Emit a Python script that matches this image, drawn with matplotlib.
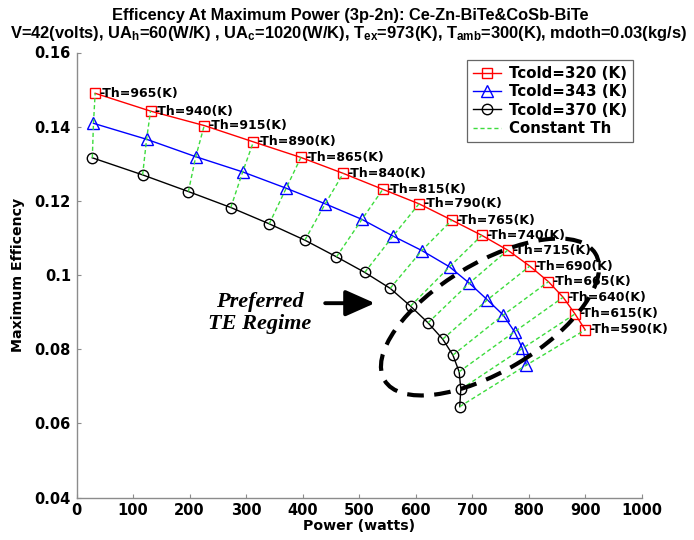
import numpy as np
import matplotlib
matplotlib.use("Agg")
import matplotlib.pyplot as plt
from matplotlib.patches import Ellipse
from matplotlib.transforms import IdentityTransform

# ---------------- data ----------------
th_values = [965, 940, 915, 890, 865, 840, 815, 790, 765, 740, 715, 690, 665, 640, 615, 590]

power_320 = [33, 131, 226, 313, 397, 472, 542, 606, 664, 717, 763, 802, 835, 861, 882, 900]
eff_320 = [0.1490, 0.1442, 0.1403, 0.1359, 0.1317, 0.1274, 0.1231, 0.1192, 0.1148, 0.1107,
           0.1067, 0.1024, 0.0982, 0.0940, 0.0895, 0.0852]

power_343 = [30, 124, 211, 294, 371, 440, 505, 560, 611, 660, 695, 727, 755, 775, 789, 796]
eff_343 = [0.1409, 0.1366, 0.1319, 0.1278, 0.1234, 0.1192, 0.1150, 0.1105, 0.1066, 0.1022,
           0.0978, 0.0933, 0.0892, 0.0847, 0.0802, 0.0757]

power_370 = [28, 117, 198, 273, 341, 404, 460, 510, 555, 591, 622, 648, 666, 677, 680, 678]
eff_370 = [0.1316, 0.1270, 0.1225, 0.1182, 0.1138, 0.1094, 0.1049, 0.1007, 0.0964, 0.0916,
           0.0871, 0.0827, 0.0784, 0.0739, 0.0692, 0.0645]

legend_labels = ["Tcold=320 (K)", "Tcold=343 (K)", "Tcold=370 (K)", "Constant Th"]
x_ticks = [0, 100, 200, 300, 400, 500, 600, 700, 800, 900, 1000]
y_ticks = [0.04, 0.06, 0.08, 0.1, 0.12, 0.14, 0.16]
y_tick_labels = ["0.04", "0.06", "0.08", "0.1", "0.12", "0.14", "0.16"]

title1 = "Efficency At Maximum Power (3p-2n): Ce-Zn-BiTe&CoSb-BiTe"
title2 = (r"V=42(volts), UA$_h$=60(W/K) , UA$_c$=1020(W/K), T$_{ex}$=973(K), "
          r"T$_{amb}$=300(K), mdoth=0.03(kg/s)")

# ---------------- style ----------------
FONT = "DejaVu Sans"
TFONT = "Liberation Sans"
plt.rcParams["font.family"] = FONT
plt.rcParams["font.weight"] = "bold"
plt.rcParams["mathtext.fontset"] = "custom"
plt.rcParams["mathtext.bf"] = "Liberation Sans:bold"
plt.rcParams["mathtext.rm"] = "Liberation Sans:bold"
plt.rcParams["mathtext.default"] = "bf"

W, H = 694, 540
fig = plt.figure(figsize=(W / 100, H / 100), dpi=100)
ax_l, ax_r, ax_t, ax_b = 76.5, 641.7, 52.5, 497.5
ax = fig.add_axes([ax_l / W, 1 - ax_b / H, (ax_r - ax_l) / W, (ax_b - ax_t) / H])

green = "#3ddc3d"
l1, = ax.plot(power_320, eff_320, color="red", lw=1.0, marker="s", ms=7.5,
              mfc="none", mec="red", mew=1.0, zorder=3)
l2, = ax.plot(power_343, eff_343, color="blue", lw=1.0, marker="^", ms=8,
              mfc="none", mec="blue", mew=1.0, zorder=3)
l3, = ax.plot(power_370, eff_370, color="black", lw=1.0, marker="o", ms=7.5,
              mfc="none", mec="black", mew=1.0, zorder=3)
gl = None
for i in range(len(th_values)):
    g, = ax.plot([power_370[i], power_343[i], power_320[i]],
                 [eff_370[i], eff_343[i], eff_320[i]],
                 color=green, lw=1.0, ls=(0, (3, 2)), zorder=4)
    if gl is None:
        gl = g

for i, th in enumerate(th_values):
    ax.annotate("-Th=%d(K)" % th, (power_320[i], eff_320[i]), xytext=(3, 0),
                textcoords="offset points", ha="left", va="center",
                fontsize=9, fontweight="bold", zorder=5)

ax.set_xlim(0, 1000)
ax.set_ylim(0.04, 0.16)
ax.set_xticks(x_ticks)
ax.set_yticks(y_ticks)
ax.set_yticklabels(y_tick_labels)
for s in ["top", "right"]:
    ax.spines[s].set_visible(False)
for s in ["left", "bottom"]:
    ax.spines[s].set_color("#8c8c8c")
    ax.spines[s].set_linewidth(1.0)
ax.tick_params(direction="in", length=3, width=0.8, color="#8c8c8c",
               labelsize=10.5, pad=4)
for lab in ax.get_xticklabels() + ax.get_yticklabels():
    lab.set_fontweight("bold")

leg = ax.legend([l1, l2, l3, gl], legend_labels, loc="upper right",
                bbox_to_anchor=(0.985, 0.983), borderaxespad=0,
                fontsize=10.8, frameon=True, fancybox=False, framealpha=1,
                edgecolor="#666666", handlelength=1.9, handletextpad=0.5,
                labelspacing=0.22, borderpad=0.4)
leg.get_frame().set_linewidth(0.9)
for t in leg.get_texts():
    t.set_fontweight("bold")

# titles and axis labels
fig.text(350 / W, 1 - 20 / H, title1, ha="center", va="baseline",
         fontsize=11.8, fontweight="bold", family=TFONT)
fig.text(349 / W, 1 - 38 / H, title2, ha="center", va="baseline",
         fontsize=11.9, fontweight="bold", family=TFONT)
fig.text(18 / W, 1 - 275 / H, "Maximum Efficency", rotation=90, ha="center",
         va="center", fontsize=10.2, fontweight="bold")
fig.text(359 / W, 1 - 526 / H, "Power (watts)", ha="center", va="center",
         fontsize=10.2, fontweight="bold")

# annotation: preferred regime
ax.text(324.7, 0.0897, "Preferred\nTE Regime", ha="center", va="center",
        multialignment="center", fontsize=16, fontweight="bold",
        fontstyle="italic", family="Liberation Serif", linespacing=1.15)
ax.annotate("", xy=(528, 0.0924), xytext=(440, 0.0924),
            arrowprops=dict(arrowstyle="-|>,head_length=0.9,head_width=0.4",
                            lw=2.8, color="black", mutation_scale=20,
                            shrinkA=0, shrinkB=0))

ell = Ellipse((490, H - 317), 246, 108, angle=31, transform=IdentityTransform(),
              fill=False, edgecolor="black", lw=3.0, ls=(0, (4, 2.5)), zorder=6)
fig.add_artist(ell)

fig.savefig("out.png", dpi=100)
